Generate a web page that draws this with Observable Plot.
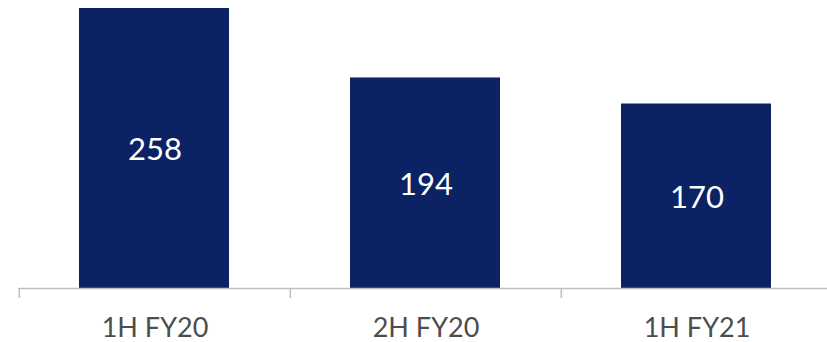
<!DOCTYPE html>
<html>
<head>
<meta charset="utf-8">
<script src="https://cdn.jsdelivr.net/npm/d3@7"></script>
<script src="https://cdn.jsdelivr.net/npm/@observablehq/plot@0.6"></script>
<style>
  html, body { margin: 0; padding: 0; background: #fff; }
  #chart svg { display: block; }
</style>
</head>
<body>
<div id="chart"></div>
<script>
const categories = ["1H FY20", "2H FY20", "1H FY21"];
const values = [258, 194, 170];

const data = categories.map((c, i) => ({category: c, value: values[i]}));

const width = 827;
const xRange = [18, 832];
const band = (xRange[1] - xRange[0]) / categories.length;

const chart = Plot.plot({
  width,
  height: 342,
  marginTop: 8,
  marginBottom: 54,
  marginLeft: 18,
  marginRight: 0,
  style: {fontFamily: "Lato, 'Open Sans', sans-serif", background: "#fff"},
  x: {domain: categories, range: xRange, padding: 0, axis: null},
  y: {domain: [0, 258], axis: null},
  marks: [
    Plot.barY(data, {x: "category", y: "value", fill: "#0b2265", insetLeft: 60, insetRight: 61}),
    Plot.ruleY([0], {stroke: "#bfbfbf", strokeWidth: 1.5}),
    Plot.ruleX(categories, {x: d => d, dx: -band / 2, y1: 0, y2: 0, insetBottom: -10, stroke: "#bfbfbf", strokeWidth: 1.5}),
    Plot.axisX(categories, {tickSize: 0, tickPadding: 29, fontSize: 27, color: "#4d4d4d", label: null}),
    Plot.text(data, {x: "category", y: d => d.value / 2, text: d => String(d.value), fill: "#fff", fontSize: 31, dy: 2})
  ]
});
document.getElementById("chart").appendChild(chart);
</script>
</body>
</html>
